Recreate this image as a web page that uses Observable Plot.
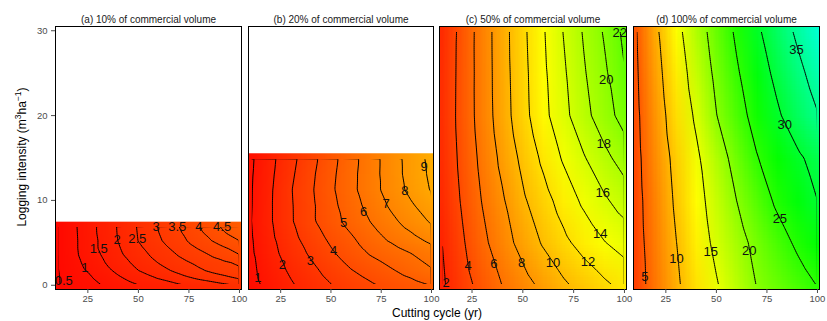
<!DOCTYPE html>
<html>
<head>
<meta charset="utf-8">
<script src="https://cdn.jsdelivr.net/npm/d3@7"></script>
<script src="https://cdn.jsdelivr.net/npm/@observablehq/plot@0.6"></script>
<style>
  body { margin: 0; background: #fff; font-family: "Liberation Sans", Arial, sans-serif; }
  #wrap { position: relative; width: 827px; height: 321px; overflow: hidden; background: #fff; }
  #wrap svg { position: absolute; top: 0; }
  #xtitle { position: absolute; left: 55px; width: 764px; top: 306px; text-align: center; font-size: 12px; line-height: 14px; color: #000; }
  #ytitle { position: absolute; left: 22px; top: 157px; transform: translate(-50%, -50%) rotate(-90deg); white-space: nowrap; font-size: 12px; line-height: 14px; color: #000; }
  #ytitle sup { font-size: 8.5px; line-height: 0; vertical-align: 5px; }
</style>
</head>
<body>
<div id="wrap">
  <div id="ytitle">Logging intensity (m<sup>3</sup>ha<sup>−1</sup>)</div>
  <div id="xtitle">Cutting cycle (yr)</div>
</div>
<script>
// ---------- data ----------
const cuttingCycle = [10, 20, 30, 40, 50, 60, 70, 80, 90, 100];
const panelTitles = [
  "(a) 10% of commercial volume",
  "(b) 20% of commercial volume",
  "(c) 50% of commercial volume",
  "(d) 100% of commercial volume"
];
const xTicks = [25, 50, 75, 100];
const yTicks = [0, 10, 20, 30];

// (a) rows of logging intensity (bottom to top), values per cutting cycle
const intensityA = [0, 0.875, 1.75, 2.625, 3.5, 4.375, 5.25, 6.125, 7];
const volumeA = [
  [0.47, 0.73, 0.95, 1.22, 1.49, 1.71, 1.93, 2.14, 2.35, 2.55],
  [0.47, 0.78, 1.08, 1.43, 1.74, 2.04, 2.33, 2.60, 2.83, 3.07],
  [0.48, 0.85, 1.23, 1.62, 2.00, 2.32, 2.63, 2.93, 3.19, 3.40],
  [0.48, 0.92, 1.35, 1.76, 2.15, 2.51, 2.83, 3.11, 3.34, 3.58],
  [0.48, 0.98, 1.43, 1.88, 2.29, 2.67, 3.02, 3.32, 3.64, 3.97],
  [0.48, 1.00, 1.50, 1.95, 2.40, 2.80, 3.18, 3.54, 3.87, 4.19],
  [0.48, 1.00, 1.50, 2.01, 2.51, 2.93, 3.33, 3.75, 4.15, 4.50],
  [0.48, 1.01, 1.53, 2.03, 2.53, 2.99, 3.42, 3.89, 4.35, 4.79],
  [0.48, 1.02, 1.54, 2.04, 2.55, 3.03, 3.50, 4.00, 4.50, 4.95]
];
const levelsA = [0.5, 1, 1.5, 2, 2.5, 3, 3.5, 4, 4.5];
const labelsA = [[0.5, 13.1, 0.5], [1, 23.5, 2.0], [1.5, 30.4, 4.3], [2, 39.5, 5.4], [2.5, 49.4, 5.5],
                 [3, 58.8, 6.9], [3.5, 69.2, 6.9], [4, 79.9, 6.9], [4.5, 91.4, 6.9]];

// (b)
const intensityB = [0, 1.875, 3.75, 5.625, 7.5, 9.375, 11.25, 13.125, 15];
const volumeB = [
  [0.70, 1.29, 1.88, 2.43, 2.96, 3.42, 3.87, 4.27, 4.65, 5.03],
  [0.78, 1.49, 2.17, 2.77, 3.38, 3.99, 4.47, 4.95, 5.45, 5.95],
  [0.85, 1.69, 2.44, 3.14, 3.85, 4.50, 5.10, 5.55, 6.00, 6.50],
  [0.90, 1.82, 2.69, 3.48, 4.22, 4.89, 5.58, 6.23, 6.78, 7.37],
  [0.95, 1.91, 2.88, 3.80, 4.60, 5.34, 6.04, 6.75, 7.44, 8.11],
  [0.92, 1.91, 2.89, 3.79, 4.70, 5.55, 6.37, 7.16, 7.88, 8.55],
  [0.91, 1.89, 2.93, 3.86, 4.82, 5.73, 6.61, 7.45, 8.27, 9.08],
  [0.88, 1.82, 2.81, 3.78, 4.75, 5.71, 6.61, 7.52, 8.39, 9.20],
  [0.84, 1.75, 2.69, 3.65, 4.65, 5.64, 6.59, 7.52, 8.42, 9.29]
];
const levelsB = [1, 2, 3, 4, 5, 6, 7, 8, 9];
const labelsB = [[1, 13.7, 0.9], [2, 25.8, 2.4], [3, 39.8, 2.9], [4, 51.3, 4.0], [5, 56.3, 7.3],
                 [6, 66.2, 8.6], [7, 77.4, 9.6], [8, 86.8, 11.1], [9, 96.3, 14.0]];

// (c)
const intensityC = [0, 5, 10, 15, 20, 25, 30];
const volumeC = [
  [1.70, 3.20, 4.65, 6.04, 7.25, 8.46, 9.68, 10.69, 11.62, 12.55],
  [1.95, 3.73, 5.50, 7.13, 8.70, 10.20, 11.53, 12.74, 13.90, 14.80],
  [2.25, 4.17, 6.08, 7.78, 9.70, 11.24, 12.83, 14.40, 15.70, 16.90],
  [2.43, 4.47, 6.50, 8.50, 10.50, 12.40, 14.24, 15.84, 17.44, 18.90],
  [2.50, 4.67, 6.84, 9.05, 11.30, 13.40, 15.40, 17.35, 19.10, 20.80],
  [2.45, 4.64, 6.87, 9.15, 11.40, 13.60, 15.70, 17.80, 19.60, 21.90],
  [2.30, 4.60, 6.90, 9.20, 11.55, 13.80, 16.07, 18.20, 20.20, 22.50]
];
const levelsC = [2, 4, 6, 8, 10, 12, 14, 16, 18, 20, 22];
const labelsC = [[2, 12.3, 0.3], [4, 23.1, 2.3], [6, 35.8, 2.5], [8, 49.4, 2.7], [10, 64.8, 2.7], [12, 82.1, 2.8],
                 [14, 88.1, 6.1], [16, 89.3, 10.9], [18, 89.8, 16.7], [20, 91.0, 24.2], [22, 97.7, 29.7]];

// (d)
const intensityD = [0, 5, 10, 15, 20, 25, 30];
const volumeD = [
  [3.50, 6.45, 9.40, 12.10, 14.70, 17.40, 20.10, 21.75, 23.40, 25.10],
  [3.65, 6.80, 9.90, 12.90, 15.90, 18.50, 21.10, 23.40, 25.60, 27.50],
  [3.80, 7.15, 10.50, 13.60, 16.75, 20.00, 22.90, 25.65, 27.80, 30.00],
  [4.00, 7.60, 11.00, 14.30, 17.90, 21.50, 24.80, 27.10, 29.30, 31.40],
  [4.20, 8.10, 11.90, 15.60, 19.90, 23.30, 26.50, 29.40, 32.20, 34.80],
  [4.45, 8.70, 12.70, 16.80, 20.90, 24.50, 27.90, 31.00, 33.90, 36.70],
  [4.70, 9.35, 13.70, 17.90, 21.85, 25.70, 29.30, 32.60, 35.70, 38.60]
];
const levelsD = [5, 10, 15, 20, 25, 30, 35];
const labelsD = [[5, 14.6, 1.0], [10, 30.3, 3.1], [15, 47.2, 3.9], [20, 66.2, 4.1], [25, 81.4, 7.8],
                 [30, 83.8, 18.9], [35, 89.6, 27.8]];

// ---------- layout / styles ----------
const xDomain = [9, 101];
const yDomain = [-0.5, 30.5];
const font = "'Liberation Sans', Arial, Helvetica, sans-serif";
const SVGNS = "http://www.w3.org/2000/svg";

const panels = [
  {title: panelTitles[0], rows: intensityA, values: volumeA, levels: levelsA, labels: labelsA, left: 0,   width: 244, ml: 55, mr: 3, yAxis: true},
  {title: panelTitles[1], rows: intensityB, values: volumeB, levels: levelsB, labels: labelsB, left: 244, width: 192, ml: 4,  mr: 3, yAxis: false},
  {title: panelTitles[2], rows: intensityC, values: volumeC, levels: levelsC, labels: labelsC, left: 436, width: 193, ml: 3,  mr: 3, yAxis: false},
  {title: panelTitles[3], rows: intensityD, values: volumeD, levels: levelsD, labels: labelsD, left: 629, width: 194, ml: 4,  mr: 4, yAxis: false}
];

const wrap = document.getElementById("wrap");

panels.forEach((p, k) => {
  const nx = cuttingCycle.length, ny = p.rows.length;
  // scattered points (for contours)
  const points = p.rows.flatMap((y, i) => cuttingCycle.map((x, j) => ({x, y, v: p.values[i][j]})));
  // regular grid, top row first (for the smoothly scaled raster image)
  const gridValues = p.rows.map((_, i) => p.values[ny - 1 - i]).flat();
  const dxCell = (cuttingCycle[nx - 1] - cuttingCycle[0]) / (nx - 1);
  const dyCell = (p.rows[ny - 1] - p.rows[0]) / (ny - 1);
  const yMax = d3.max(p.rows);
  const yTop = yMax + 0.5;   // edge of the coloured area
  const partial = yTop < yDomain[1];
  const halfY = Math.max(dyCell / 2, 0.5);

  const labels = p.labels.map(([v, x, y]) => ({x, y, text: String(v)}));

  const chart = Plot.plot({
    width: p.width,
    height: 321,
    marginTop: 26,
    marginBottom: 32,
    marginLeft: p.ml,
    marginRight: p.mr,
    style: {fontFamily: font, fontSize: "9.5px", background: "transparent", overflow: "visible"},
    x: {domain: xDomain},
    y: {domain: yDomain, axis: p.yAxis ? undefined : null},
    color: {type: "linear", domain: [0, 13.67, 27.33, 41], range: ["#ff0000", "#ffff00", "#00ff00", "#00ffff"]},
    marks: [
      Plot.raster(gridValues, {
        width: nx, height: ny, fill: (d) => d,
        x1: cuttingCycle[0] - dxCell / 2, x2: cuttingCycle[nx - 1] + dxCell / 2,
        y1: yMax + halfY, y2: p.rows[0] - halfY,
        imageRendering: "auto", clip: true
      }),
      partial ? Plot.rect([yTop], {y1: (d) => d, y2: yDomain[1], fill: "white"}) : null,
      Plot.contour(points, {
        x: "x", y: "y", value: "v", interpolate: "barycentric",
        thresholds: p.levels,
        stroke: "black", fill: "none", strokeWidth: 1
      }),
      Plot.text(labels, {x: "x", y: "y", text: "text", fontSize: 13, fill: "#111"}),
      Plot.frame({stroke: "black", strokeWidth: 1}),
      Plot.axisX({ticks: xTicks, tickSize: 4, tickPadding: 2, label: null, color: "#4d4d4d"}),
      p.yAxis ? Plot.axisY({ticks: yTicks, tickSize: 4, tickPadding: 4, label: null, color: "#4d4d4d"}) : null,
      Plot.text([p.title], {frameAnchor: "top", dy: -11, fontSize: 10, fill: "#1a1a1a"})
    ]
  });

  // Contours stop at the edge of the data grid: clip them just inside it,
  // which also hides the closing segments that run along the grid border.
  const sx = chart.scale("x"), sy = chart.scale("y");
  const cx0 = sx.apply(cuttingCycle[0]) + 1.2;
  const cx1 = sx.apply(cuttingCycle[nx - 1]) - 1.2;
  const cy0 = sy.apply(yMax) + 1.2;
  const cy1 = sy.apply(p.rows[0]) - 1.2;
  const defs = document.createElementNS(SVGNS, "defs");
  const cp = document.createElementNS(SVGNS, "clipPath");
  cp.setAttribute("id", "contour-clip-" + k);
  const r = document.createElementNS(SVGNS, "rect");
  r.setAttribute("x", cx0); r.setAttribute("y", cy0);
  r.setAttribute("width", cx1 - cx0); r.setAttribute("height", cy1 - cy0);
  cp.appendChild(r); defs.appendChild(cp);
  chart.insertBefore(defs, chart.firstChild);
  const g = chart.querySelector('g[aria-label="contour"]');
  if (g) g.setAttribute("clip-path", `url(#contour-clip-${k})`);

  chart.style.left = p.left + "px";
  wrap.appendChild(chart);
});
</script>
</body>
</html>
